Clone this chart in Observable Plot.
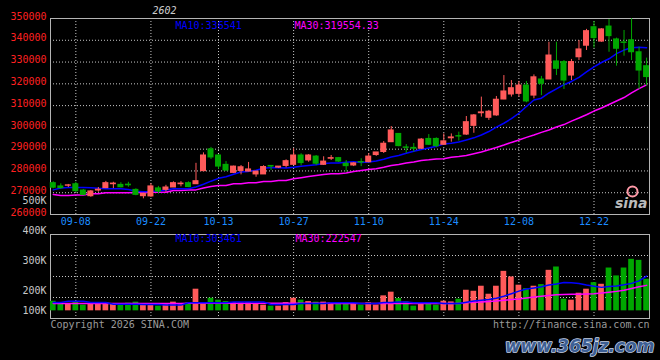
<!DOCTYPE html>
<html><head><meta charset="utf-8">
<script src="https://cdn.jsdelivr.net/npm/d3@7"></script>
<script src="https://cdn.jsdelivr.net/npm/@observablehq/plot@0.6"></script>
<style>
html,body{margin:0;padding:0;background:#000;}
#wrap{position:relative;width:660px;height:360px;overflow:hidden;background:#000;}
#wrap svg{position:absolute;left:0;background:transparent;}
</style></head><body><div id="wrap"></div>
<script>
// ---------------- data ----------------
const title = "2602";
const dates = ["09-03","09-04","09-05","09-08","09-09","09-10","09-11","09-12","09-15","09-16",
"09-17","09-18","09-19","09-22","09-23","09-24","09-25","09-26","09-29","09-30",
"10-09","10-10","10-13","10-14","10-15","10-16","10-17","10-20","10-21","10-22",
"10-23","10-24","10-27","10-28","10-29","10-30","10-31","11-03","11-04","11-05",
"11-06","11-07","11-10","11-11","11-12","11-13","11-14","11-17","11-18","11-19",
"11-20","11-21","11-24","11-25","11-26","11-27","11-28","12-01","12-02","12-03",
"12-04","12-05","12-08","12-09","12-10","12-11","12-12","12-15","12-16","12-17",
"12-18","12-19","12-22","12-23","12-24","12-25","12-26","12-29","12-30","12-31"];
const openP = [274400,272900,273200,273900,271000,268400,271000,272100,273900,273600,
273700,271300,268400,268300,272000,271300,272400,273900,274400,273900,
279900,289900,287100,282800,279100,280000,279700,278400,278400,282300,
281500,282300,282800,287100,284800,286600,282800,285600,285900,283300,
282500,284100,284000,287300,288700,293200,297000,290800,290600,290200,
294700,294700,292000,295000,296000,296700,300700,306500,304400,305500,
312800,315100,315400,319200,314600,322000,322000,330300,330000,323800,
332200,337500,346000,339400,346300,340400,339000,340000,334500,328100];
const highP = [275000,274100,273800,274800,271500,271000,272400,275200,274800,274600,
274800,271800,269800,274100,272900,273400,275000,275100,275000,283500,
288300,290800,287500,284300,282200,282500,283900,279900,282400,282300,
282000,285100,290200,287900,287500,287100,286500,287100,286200,284800,
283800,285600,287900,288500,293500,300400,297200,292100,292600,294900,
296700,295200,297000,297000,297800,305000,305900,313900,307800,314200,
323800,321500,321100,321100,324100,323400,339100,339100,330700,331200,
339900,345000,348600,345300,349500,341000,344500,349900,336800,331800];
const lowP = [271800,271600,272400,270100,268700,267900,270200,271900,271900,272200,
272500,268600,267200,267900,269600,270200,272400,272700,272300,273800,
279700,285300,280700,279700,278800,278200,279600,277100,278400,280200,
281100,281400,282500,282300,284000,282500,282500,284800,283900,279400,
282000,282000,283900,286700,288000,293100,291100,288100,288600,289800,
291700,290600,291700,293200,293700,296300,297300,304700,303200,305100,
312700,313900,313900,311300,313100,314600,322000,323800,317400,321500,
330700,335300,336400,339100,334500,328100,332700,330700,317400,318900];
const closeP = [272300,272100,273400,270700,269000,270600,271400,274400,274200,272500,
273400,269000,269500,272900,270500,272400,274400,274200,272600,275300,
287100,286200,282000,280200,282000,281700,280700,279700,281800,282000,
282000,284500,287100,283600,287100,283300,284300,285900,284300,282200,
283500,283900,286600,288500,292500,298600,291400,290600,290200,294400,
292000,291400,293600,295400,295800,302400,305500,306900,307200,312700,
316500,318000,319200,311900,323000,320000,333000,326900,321500,330000,
335800,344200,341000,345000,341900,336100,338800,334500,326100,323100];
const volume = [84000,70000,64000,72000,50000,58000,67000,72000,64000,64000,
67000,76000,58000,52000,41000,64000,76000,64000,67000,189000,
72000,110000,93000,81000,72000,70000,72000,58000,50000,41000,
41000,72000,110000,93000,81000,76000,76000,70000,72000,64000,
64000,50000,70000,50000,131000,163000,107000,78000,41000,72000,
58000,50000,84000,78000,102000,180000,171000,215000,145000,215000,
345000,296000,224000,194000,215000,229000,354000,383000,102000,93000,
154000,189000,246000,232000,374000,305000,374000,450000,441000,276000];
const ma10 = [271300,272200,272400,272400,272400,272300,272000,271800,271800,271800,
271500,270700,270500,270600,270800,271300,271800,271800,271800,272600,
273900,275300,276600,277300,278500,279500,279800,280300,281200,281600,
281500,281300,281700,282200,282500,282800,283400,283600,283700,284000,
284200,283900,284100,284600,285400,286400,287100,288100,289000,289800,
290500,291300,292400,292700,293300,294200,295200,296500,298100,300100,
301900,304000,306500,309600,312600,313400,315800,317700,319600,321100,
323000,325500,327800,329800,331500,333900,335500,336600,336800,336541];
const ma30 = [269200,268700,268700,269000,269000,269500,269500,270000,270000,270000,
270000,270100,270100,270200,270200,270200,271000,271000,271300,271300,
272200,272900,273300,273300,274100,274100,274600,274600,275200,275200,
275600,275600,276400,276900,277400,277900,278400,278700,278700,279100,
279700,280200,280700,281000,281700,282500,283000,283600,284100,284800,
285100,285500,285600,286300,286600,287100,287900,288700,289700,290800,
291900,293100,294200,295400,296500,297700,298800,300200,301300,302900,
304300,305800,307500,308900,310500,312100,313700,315800,317800,319554.33];
const volMa10 = [73000,73000,84000,84000,84000,73000,73000,73000,58000,58000,
58000,58000,56000,56000,56000,50000,50000,50000,70000,70000,
70000,70000,70000,70000,78000,78000,78000,78000,78000,56000,
56000,56000,56000,64000,64000,64000,64000,70000,70000,70000,
70000,64000,64000,64000,73000,73000,78000,78000,70000,70000,
70000,70000,64000,64000,64000,75000,85000,93000,100000,110000,
128000,150000,172000,190000,200000,210000,225000,235000,247000,245000,
238000,225000,215000,205000,212000,218000,228000,240000,262000,303461];
const volMa30 = [64000,64000,64000,64000,64000,64000,64000,64000,64000,64000,
64000,64000,64000,64000,64000,64000,64000,64000,66000,66000,
66000,66000,66000,66000,66000,66000,66000,66000,66000,66000,
66000,66000,66000,66000,66000,66000,66000,65000,65000,65000,
65000,65000,65000,65000,65000,65000,65000,65000,65000,65000,
65000,65000,65000,65000,65000,70000,74000,78000,82000,86000,
92000,98000,104000,112000,120000,128000,135000,141000,143000,144000,
145000,147000,150000,155000,162000,170000,180000,195000,210000,222547];
const priceTicks = [260000,270000,280000,290000,300000,310000,320000,330000,340000,350000];
const dateLabels = ["09-08","09-22","10-13","10-27","11-10","11-24","12-08","12-22"];
const volTickLabels = ["500K","400K","300K","200K","100K"];

// ---------------- chart ----------------
const RED = "#ff5a5a", GREEN = "#00a800", GRID = "#c8c8c8", FRAME = "#b4b4b4";
const FONT = "'DejaVu Sans Mono','Liberation Mono',monospace";
const rows = dates.map((d, i) => ({i, d, o: openP[i], h: highP[i], l: lowP[i], c: closeP[i], v: volume[i],
  ma10: ma10[i], ma30: ma30[i], vm10: volMa10[i], vm30: volMa30[i]}));
const col = r => (r.c >= r.o ? RED : GREEN);
const xDomain = [-0.373, 79.39];
const dateIdx = dateLabels.map(s => dates.indexOf(s));
const wrap = document.getElementById("wrap");
const fmt = v => String(v);

const main = Plot.plot({
  width: 660, height: 232,
  marginLeft: 50, marginRight: 11, marginTop: 18, marginBottom: 18,
  style: {background: "transparent", fontFamily: FONT, fontSize: "10px", overflow: "visible"},
  x: {type: "linear", domain: xDomain, axis: null},
  y: {domain: [260000, 350000], axis: null},
  marks: [
    Plot.gridY(priceTicks, {stroke: GRID, strokeOpacity: 1, strokeDasharray: "1,2"}),
    Plot.gridX(dateIdx, {stroke: GRID, strokeOpacity: 1, strokeDasharray: "1,2"}),
    Plot.frame({stroke: FRAME}),
    Plot.text(priceTicks, {y: d => d, text: fmt, frameAnchor: "left", dx: -4, dy: -2, textAnchor: "end", lineAnchor: "middle", fill: "#ff2020"}),
    Plot.text(dateIdx, {x: d => d, text: i => dates[i], frameAnchor: "bottom", dy: 7, lineAnchor: "middle", fill: "#1c8cff"}),
    Plot.line(rows, {x: "i", y: "ma30", stroke: "#ff00ff", strokeWidth: 1.5}),
    Plot.line(rows, {x: "i", y: "ma10", stroke: "#0000ff", strokeWidth: 1.5}),
    Plot.ruleX(rows, {x: "i", y1: "l", y2: "h", stroke: col, strokeWidth: 1}),
    Plot.rect(rows, {x1: r => r.i - 0.4, x2: r => r.i + 0.4, y1: "o", y2: "c", fill: col, insetTop: -0.5, insetBottom: -0.5}),
    Plot.text(["MA10:" + ma10[ma10.length - 1]], {text: d => d, frameAnchor: "top-left", dx: 125, dy: 7, textAnchor: "start", lineAnchor: "middle", fill: "#0000ff"}),
    Plot.text(["MA30:" + ma30[ma30.length - 1]], {text: d => d, frameAnchor: "top-left", dx: 244, dy: 7, textAnchor: "start", lineAnchor: "middle", fill: "#ff00ff"}),
    Plot.text([title], {text: d => d, frameAnchor: "top-left", dx: 102, dy: -8, textAnchor: "start", lineAnchor: "middle", fill: "#cccccc", fontStyle: "italic"}),
    Plot.dot([0], {frameAnchor: "bottom-right", dx: -17, dy: -23, r: 5, stroke: "#ff9aa8", strokeWidth: 2, fill: "none"}),
    Plot.text(["sina"], {text: d => d, frameAnchor: "bottom-right", dx: -2, dy: -11, textAnchor: "end", lineAnchor: "middle", fill: "#bbbbbb", fontWeight: "bold", fontStyle: "italic", fontSize: 14, fontFamily: "DejaVu Sans"})
  ]
});
main.style.top = "0px";
wrap.appendChild(main);

// volume panel (absolute, overlapping area above so the 500K label sits in main panel)
const vDomain = [-67000, 667000];
const vGrid = [1, 2, 3].map(k => vDomain[0] + k * (vDomain[1] - vDomain[0]) / 4);
// reference prints its volume tick labels at 30px per 100K from the 500K label downward
const labelPos = {"500K": 963000, "400K": 696000, "300K": 438000, "200K": 177000, "100K": -3000};
const vol = Plot.plot({
  width: 660, height: 170,
  marginLeft: 50, marginRight: 11, marginTop: 44, marginBottom: 42,
  style: {background: "transparent", fontFamily: FONT, fontSize: "10px", overflow: "visible"},
  x: {type: "linear", domain: xDomain, axis: null},
  y: {domain: vDomain, axis: null},
  marks: [
    Plot.gridY(vGrid, {stroke: GRID, strokeOpacity: 1, strokeDasharray: "1,2"}),
    Plot.gridX(dateIdx, {stroke: GRID, strokeOpacity: 1, strokeDasharray: "1,2"}),
    Plot.frame({stroke: FRAME}),
    Plot.rect(rows, {x1: r => r.i - 0.38, x2: r => r.i + 0.38, y1: 0, y2: "v", fill: col}),
    Plot.line(rows, {x: "i", y: "vm30", stroke: "#ff00ff", strokeWidth: 1.5}),
    Plot.line(rows, {x: "i", y: "vm10", stroke: "#0000ff", strokeWidth: 1.5}),
    Plot.text(volTickLabels, {y: d => labelPos[d], text: d => d, frameAnchor: "left", dx: -4, textAnchor: "end", lineAnchor: "middle", fill: "#c8c8c8"}),
    Plot.text(["MA10:" + volMa10[volMa10.length - 1]], {text: d => d, frameAnchor: "top-left", dx: 125, dy: 4, textAnchor: "start", lineAnchor: "middle", fill: "#0000ff"}),
    Plot.text(["MA30:" + volMa30[volMa30.length - 1]], {text: d => d, frameAnchor: "top-left", dx: 245, dy: 4, textAnchor: "start", lineAnchor: "middle", fill: "#ff00ff"}),
    Plot.text(["Copyright 2026 SINA.COM"], {text: d => d, frameAnchor: "bottom-left", dy: 6, textAnchor: "start", lineAnchor: "middle", fill: "#9a9a9a"}),
    Plot.text(["http://finance.sina.com.cn"], {text: d => d, frameAnchor: "bottom-right", dy: 6, textAnchor: "end", lineAnchor: "middle", fill: "#9a9a9a"}),
    Plot.text(["www.365jz.com"], {text: d => d, frameAnchor: "bottom-right", dx: 5, dy: 28, textAnchor: "end", lineAnchor: "middle", fill: "#3d5f94", stroke: "#c8d4e8", strokeWidth: 1.5, paintOrder: "stroke", fontWeight: "bold", fontStyle: "italic", fontSize: 17, fontFamily: "DejaVu Sans"})
  ]
});
vol.style.top = "190px";
wrap.appendChild(vol);
</script>
</body></html>
